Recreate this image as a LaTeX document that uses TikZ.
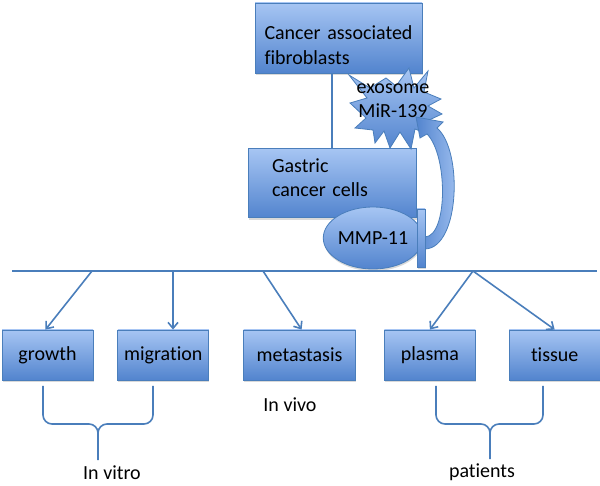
\documentclass[tikz,border=0pt]{standalone}
\usepackage{fontspec}
\setmainfont{Carlito}[Ligatures=NoCommon]
\usepackage{xcolor}
\usepackage{tikz}
\usetikzlibrary{arrows.meta,shapes.geometric,positioning,shadows}
\definecolor{gcblue}{RGB}{74,126,187}
\definecolor{gctop}{RGB}{166,197,243}
\definecolor{gcbot}{RGB}{82,132,206}

\begin{document}
\begin{tikzpicture}[
    x=1pt, y=-1pt,
    node distance=24pt,
    lbl/.style={font=\fontsize{20}{24}\selectfont},
    cellbox/.style={rectangle, draw=gcblue, line width=0.8pt, top color=gctop, bottom color=gcbot,
        minimum width=91pt, minimum height=50pt, inner sep=2pt, lbl,
        drop shadow={shadow xshift=0.5pt, shadow yshift=-2pt, opacity=0.3}},
    link/.style={draw=gcblue, line width=1.6pt},
    branch/.style={link, -{Straight Barb[length=6pt, width=10pt]}}
]
    \useasboundingbox (0,0) rectangle (600,486);

    % cells
    \node[cellbox, minimum width=167pt, minimum height=70pt, text width=148pt, align=left, font=\fontsize{20}{25}\selectfont] (caf) at (338.5,38) {\rule{0pt}{28pt}Cancer associated\\fibroblasts};
    \node[cellbox, minimum width=168pt, minimum height=69pt, text width=120pt, align=left, below=75pt of caf, xshift=-6.5pt] (gcc) {Gastric\\cancer cells\vspace*{12pt}};
    \draw[link] ([xshift=-6.5pt]caf.south) -- ([xshift=-6.5pt]caf.south |- gcc.north);

    % exosome burst
    \path[draw=gcblue, line width=0.8pt, top color=gctop, bottom color=gcbot]
        (349,75) -- (370,88) -- (386,78) -- (396,86) -- (409,68) -- (414,88) -- (428,71) -- (424,92)
        -- (441,99) -- (428,106) -- (442,114) -- (427,121) -- (430,135) -- (415,129) -- (411,149)
        -- (400,132) -- (390,148) -- (384,131) -- (375,143) -- (373,130) -- (355,128) -- (366,118)
        -- (350,103) -- (367,98) -- cycle;
    \node[lbl, align=center] (exo) at (393,101) {exosome\\MiR-139};

    % secretion arrow
    \path[draw=gcblue, line width=0.8pt, left color=gcbot, right color=gctop]
        (425,249) .. controls (460,248) and (463,150) .. (437,128)
        -- (443,122) -- (416,117) -- (420,138) -- (427,134)
        .. controls (448,155) and (448,236) .. (425,237) -- cycle;

    \node[cellbox, ellipse, minimum width=83pt, minimum height=62pt, inner sep=0pt] (mmp) at (373,238) {MMP-11};
    \node[cellbox, minimum width=8pt, minimum height=58pt, inner sep=0pt] (recp) at (421,238) {};

    % bus
    \coordinate (busL) at (12,271);
    \coordinate (busR) at (597,271);
    \coordinate (b1) at (92,271);
    \coordinate (b2) at (173,271);
    \coordinate (b3) at (263,271);
    \coordinate (b4) at (473,271);
    \draw[link] (busL) -- (busR);

    % outcomes
    \node[cellbox] (growth) at (47.5,355) {growth};
    \node[cellbox, right=24pt of growth] (migration) {migration};
    \node[cellbox, minimum width=112pt, right=34pt of migration] (metastasis) {metastasis};
    \node[cellbox, right=28pt of metastasis] (plasma) {plasma};
    \node[cellbox, right=33pt of plasma] (tissue) {tissue};

    \draw[branch] (b1) -- ([xshift=-2pt]growth.north);
    \draw[branch] (b2) -- (b2 |- migration.north);
    \draw[branch] (b3) -- ([xshift=2pt]metastasis.north);
    \draw[branch] (b4) -- (plasma.north);
    \draw[branch] (b4) -- (tissue.north);

    % groups
    \node[lbl] (vitro) at (112,473) {In vitro};
    \node[lbl] (vivo) at (290,405) {In vivo};
    \node[lbl] (pat) at (482,472) {patients};
    \draw[link, rounded corners=9pt] (43,386) |- (98,424) -- (98,460);
    \draw[link, rounded corners=9pt] (153,386) |- (98,424) -- (98,440);
    \draw[link, rounded corners=9pt] (436,386) |- (490,424) -- (490,459);
    \draw[link, rounded corners=9pt] (543,386) |- (490,424) -- (490,440);
\end{tikzpicture}
\end{document}
